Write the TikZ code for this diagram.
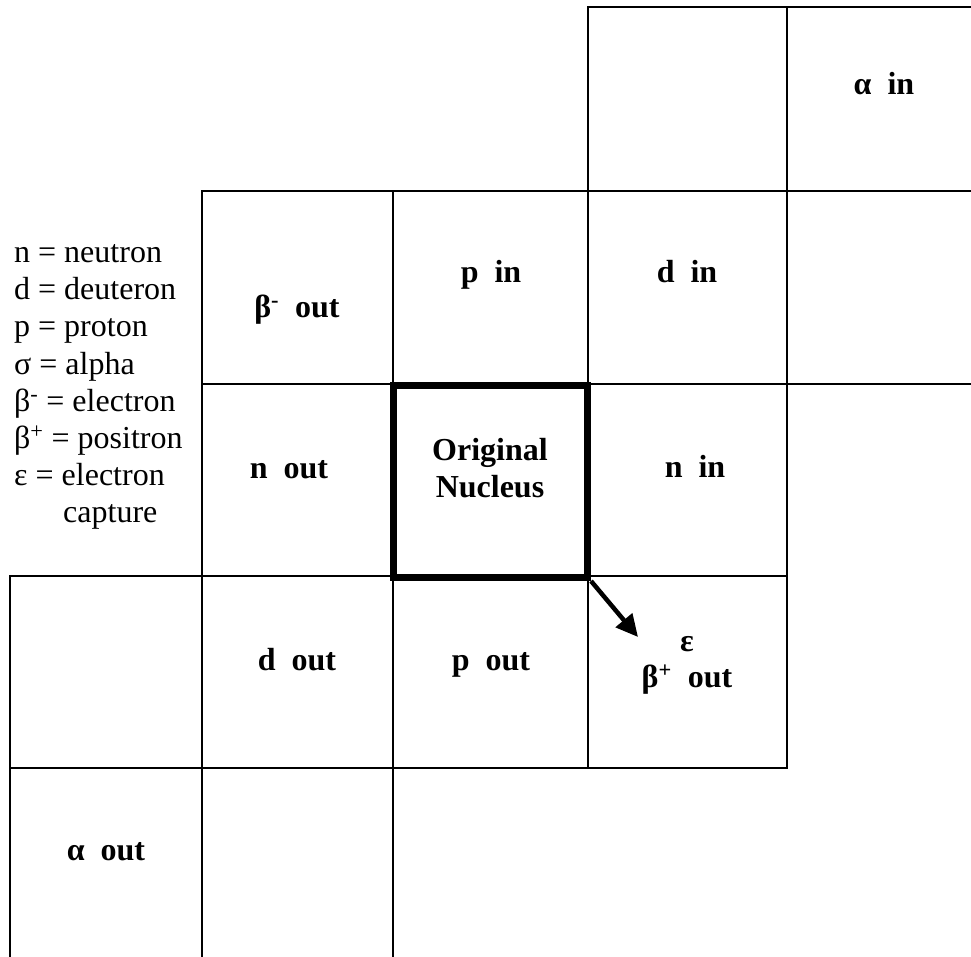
\documentclass[tikz,border=0pt]{standalone}
\usepackage{fontspec}
\setmainfont{Liberation Serif}
\usetikzlibrary{arrows.meta}
\begin{document}
\begin{tikzpicture}[x=1pt,y=-1pt,
  gridline/.style={line width=2pt,line cap=rect},
  lbl/.style={font=\fontsize{32}{37}\selectfont\bfseries,anchor=base,inner sep=0pt,align=center},
  leg/.style={font=\fontsize{32}{37}\selectfont,anchor=base west,inner sep=0pt},
  nucbox/.style={draw,line width=7pt,minimum width=194pt,minimum height=192pt,inner sep=0pt},
  decay/.style={line width=4.5pt,-{Triangle[length=22pt,width=21pt]}}]
\useasboundingbox (0,0) rectangle (971,957);
% horizontal grid lines
\draw[gridline] (588,7.5) -- (971,7.5);
\draw[gridline] (202,191) -- (971,191);
\draw[gridline] (202,384) -- (971,384);
\draw[gridline] (10,576) -- (787,576);
\draw[gridline] (10,768) -- (787,768);
% vertical grid lines
\draw[gridline] (10,576) -- (10,957);
\draw[gridline] (202,191) -- (202,957);
\draw[gridline] (393,191) -- (393,957);
\draw[gridline] (588,7.5) -- (588,768);
\draw[gridline] (787,7.5) -- (787,768);
% original nucleus box
\node[nucbox] (nuc) at (490.5,481.5) {};
\node[lbl] (orig) at (490,497) {Original\\Nucleus};
% cell labels
\node[lbl] (ain) at (884,95) {α~~in};
\node[lbl] (pin) at (491,283) {p~~in};
\node[lbl] (din) at (687,283) {d~~in};
\node[lbl] (bmout) at (297,317) {β\textsuperscript{-}~~out};
\node[lbl] (nout) at (289,478) {n~~out};
\node[lbl] (nin) at (695,477) {n~~in};
\node[lbl] (dout) at (297,670) {d~~out};
\node[lbl] (pout) at (491,670) {p~~out};
\node[lbl] (eps) at (687,651) {ε};
\node[lbl] (bpout) at (687,687) {β\textsuperscript{+}~~out};
\node[lbl] (aout) at (106,860) {α~~out};
% legend
\node[leg] (l1) at (14,263) {n = neutron};
\node[leg] (l2) at (14,300) {d = deuteron};
\node[leg] (l3) at (14,337) {p = proton};
\node[leg] (l4) at (14,374) {σ = alpha};
\node[leg] (l5) at (14,411) {β\textsuperscript{-} = electron};
\node[leg] (l6) at (14,448) {β\textsuperscript{+} = positron};
\node[leg] (l7) at (14,485) {ε = electron};
\node[leg] (l8) at (63,522) {capture};
% arrow
\coordinate (tip) at (638,637);
\draw[decay] (nuc.south east) -- (tip);
\end{tikzpicture}
\end{document}
